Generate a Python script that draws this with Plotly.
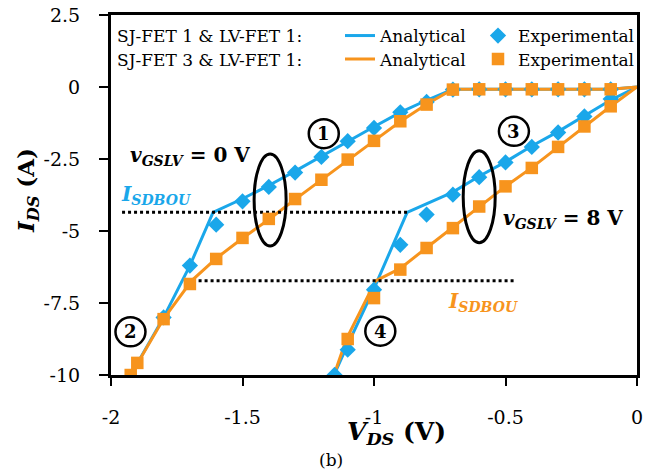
import plotly.graph_objects as go

# ---------------- data ----------------
# SJ-FET 1 & LV-FET 1 (blue), experimental, vGSLV = 0 V
b_exp0_v = [-1.8, -1.7, -1.6, -1.5, -1.4, -1.3, -1.2, -1.1, -1.0, -0.9, -0.8, -0.7, -0.6, -0.5, -0.4, -0.3, -0.2, -0.1]
b_exp0_i = [-8.0, -6.2, -4.78, -3.97, -3.47, -2.97, -2.43, -1.88, -1.42, -0.88, -0.52, -0.09, -0.08, -0.08, -0.08, -0.08, -0.08, -0.08]
# SJ-FET 1 & LV-FET 1 (blue), experimental, vGSLV = 8 V
b_exp8_v = [-1.15, -1.1, -1.0, -0.9, -0.8, -0.7, -0.6, -0.5, -0.4, -0.3, -0.2, -0.1]
b_exp8_i = [-10.0, -9.12, -7.04, -5.48, -4.43, -3.74, -3.13, -2.62, -2.08, -1.58, -1.02, -0.42]
# SJ-FET 3 & LV-FET 1 (orange), experimental, vGSLV = 0 V
o_exp0_v = [-1.925, -1.9, -1.8, -1.7, -1.6, -1.5, -1.4, -1.3, -1.2, -1.1, -1.0, -0.9, -0.8, -0.7, -0.6, -0.5, -0.4, -0.3, -0.2, -0.1]
o_exp0_i = [-10.0, -9.58, -8.06, -6.84, -5.97, -5.24, -4.58, -3.89, -3.22, -2.52, -1.87, -1.19, -0.61, -0.09, -0.08, -0.08, -0.08, -0.08, -0.08, -0.08]
# SJ-FET 3 & LV-FET 1 (orange), experimental, vGSLV = 8 V
o_exp8_v = [-1.1, -1.0, -0.9, -0.8, -0.7, -0.6, -0.5, -0.4, -0.3, -0.2, -0.1]
o_exp8_i = [-8.75, -7.33, -6.34, -5.59, -4.9, -4.15, -3.45, -2.81, -2.08, -1.37, -0.67]

# analytical curves
b_ana0_v = [-1.925, -1.8, -1.7, -1.612, -1.5, -1.4, -1.3, -1.2, -1.1, -1.0, -0.9, -0.8, -0.7, -0.1, 0.0]
b_ana0_i = [-10.0, -8.0, -6.2, -4.35, -3.88, -3.42, -2.92, -2.4, -1.87, -1.38, -0.88, -0.46, -0.08, -0.08, 0.0]
b_ana8_v = [-1.152, -1.108, -1.0, -0.874, -0.7, -0.6, -0.5, -0.4, -0.3, -0.2, -0.1, 0.0]
b_ana8_i = [-10.0, -9.1, -7.0, -4.35, -3.65, -3.1, -2.6, -2.05, -1.55, -1.0, -0.45, 0.0]
o_ana0_v = [-1.925, -1.9, -1.8, -1.693, -1.6, -1.5, -1.4, -1.3, -1.2, -1.1, -1.0, -0.9, -0.8, -0.7, -0.1, 0.0]
o_ana0_i = [-10.0, -9.6, -8.05, -6.72, -5.95, -5.25, -4.6, -3.9, -3.22, -2.52, -1.87, -1.2, -0.6, -0.08, -0.08, 0.0]
o_ana8_v = [-1.152, -1.105, -0.994, -0.9, -0.8, -0.7, -0.6, -0.5, -0.4, -0.3, -0.2, -0.1, 0.0]
o_ana8_i = [-10.0, -8.75, -6.73, -6.3, -5.58, -4.88, -4.15, -3.45, -2.8, -2.08, -1.37, -0.67, 0.0]

# I_SDBOU levels (dotted lines)
isdbou_blue_v = [-1.958, -0.870]
isdbou_blue_i = [-4.35, -4.35]
isdbou_orange_v = [-1.667, -0.458]
isdbou_orange_i = [-6.73, -6.73]

# axis ticks
x_tickvals = [-2, -1.5, -1, -0.5, 0]
x_ticktext = ["-2", "-1.5", "-1", "-0.5", "0"]
y_tickvals = [2.5, 0, -2.5, -5, -7.5, -10]
y_ticktext = ["2.5", "0", "-2.5", "-5", "-7.5", "-10"]

# circled labels and ellipses (data positions)
circ_labels = ["1", "2", "3", "4"]
circ_v = [-1.191, -1.926, -0.468, -0.976]
circ_i = [-1.62, -8.50, -1.54, -8.48]
ell_v = [-1.395, -0.600]
ell_i = [-3.92, -3.81]

BLUE = "#1AA7EA"
ORANGE = "#F7941D"
FONT = "DejaVu Serif"


def join(v1, i1, v2, i2):
    return v1 + [None] + v2, i1 + [None] + i2


fig = go.Figure()

bx, by = join(b_ana0_v, b_ana0_i, b_ana8_v, b_ana8_i)
fig.add_trace(go.Scatter(x=bx, y=by, mode="lines", line=dict(color=BLUE, width=3),
                         name="Analytical", legend="legend"))
ox, oy = join(o_ana0_v, o_ana0_i, o_ana8_v, o_ana8_i)
fig.add_trace(go.Scatter(x=ox, y=oy, mode="lines", line=dict(color=ORANGE, width=3),
                         name="Analytical", legend="legend3"))

fig.add_trace(go.Scatter(x=isdbou_blue_v, y=isdbou_blue_i, mode="lines",
                         line=dict(color="black", width=3, dash="dot"), showlegend=False))
fig.add_trace(go.Scatter(x=isdbou_orange_v, y=isdbou_orange_i, mode="lines",
                         line=dict(color="black", width=3, dash="dot"), showlegend=False))

bx, by = join(b_exp0_v, b_exp0_i, b_exp8_v, b_exp8_i)
fig.add_trace(go.Scatter(x=bx, y=by, mode="markers",
                         marker=dict(symbol="diamond", size=12.5, color=BLUE),
                         name="Experimental", legend="legend2"))
ox, oy = join(o_exp0_v, o_exp0_i, o_exp8_v, o_exp8_i)
fig.add_trace(go.Scatter(x=ox, y=oy, mode="markers",
                         marker=dict(symbol="square", size=12.5, color=ORANGE),
                         name="Experimental", legend="legend4"))

# geometry helpers (plot area 111..637 x, 15..375 y)
L, R, T, B = 111, 637, 15, 375


def px(xp):
    return (xp - L) / (R - L)


def py(yp):
    return (B - yp) / (B - T)


leg_font = dict(family=FONT, size=17, color="black")
row1, row2 = py(36), py(59.5)
legends = dict(
    legend=dict(x=px(340), y=row1),
    legend2=dict(x=px(478), y=row1),
    legend3=dict(x=px(340), y=row2),
    legend4=dict(x=px(478), y=row2),
)
for k, v in legends.items():
    v.update(xanchor="left", yanchor="middle", bgcolor="rgba(0,0,0,0)",
             borderwidth=0, font=leg_font, orientation="h")

shapes = []
for cv, ci in zip(circ_v, circ_i):
    shapes.append(dict(type="circle", xref="x", yref="y", xsizemode="pixel", ysizemode="pixel",
                       xanchor=cv, yanchor=ci, x0=-15, x1=15, y0=-14.5, y1=14.5,
                       line=dict(color="black", width=2.5), fillcolor="rgba(0,0,0,0)"))
for ev, ei in zip(ell_v, ell_i):
    shapes.append(dict(type="circle", xref="x", yref="y", xsizemode="pixel", ysizemode="pixel",
                       xanchor=ev, yanchor=ei, x0=-16, x1=16, y0=-46, y1=46,
                       line=dict(color="black", width=3), fillcolor="rgba(0,0,0,0)"))

annotations = []
for lab, cv, ci in zip(circ_labels, circ_v, circ_i):
    annotations.append(dict(x=cv, y=ci, xref="x", yref="y", text="<b>%s</b>" % lab,
                            showarrow=False, font=dict(family=FONT, size=18, color="black"),
                            xanchor="center", yanchor="middle"))

annotations += [
    dict(xref="paper", yref="paper", x=px(115), y=row1, xanchor="left", yanchor="middle",
         text="SJ-FET 1 &amp; LV-FET 1:", showarrow=False, font=leg_font),
    dict(xref="paper", yref="paper", x=px(115), y=row2, xanchor="left", yanchor="middle",
         text="SJ-FET 3 &amp; LV-FET 1:", showarrow=False, font=leg_font),
    dict(x=-1.70, y=-2.4, xref="x", yref="y", xanchor="center", yanchor="middle", showarrow=False,
         text="<b><i>v</i><sub><i>GSLV</i></sub> = 0 V</b>",
         font=dict(family=FONT, size=20, color="black")),
    dict(x=-0.283, y=-4.6, xref="x", yref="y", xanchor="center", yanchor="middle", showarrow=False,
         text="<b><i>v</i><sub><i>GSLV</i></sub> = 8 V</b>",
         font=dict(family=FONT, size=20, color="black")),
    dict(x=-1.829, y=-3.75, xref="x", yref="y", xanchor="center", yanchor="middle", showarrow=False,
         text="<b><i>I</i><sub><i>SDBOU</i></sub></b>",
         font=dict(family=FONT, size=20, color=BLUE)),
    dict(x=-0.587, y=-7.45, xref="x", yref="y", xanchor="center", yanchor="middle", showarrow=False,
         text="<b><i>I</i><sub><i>SDBOU</i></sub></b>",
         font=dict(family=FONT, size=20, color=ORANGE)),
    # axis titles
    dict(xref="paper", yref="paper", x=px(27), y=py(191), xanchor="center", yanchor="middle",
         textangle=-90, showarrow=False, text="<b><i>I</i><sub><i>DS</i></sub> (A)</b>",
         font=dict(family=FONT, size=23, color="black")),
    dict(xref="paper", yref="paper", x=px(396), y=py(433), xanchor="center", yanchor="middle",
         showarrow=False, text="<b><i>V</i><sub><i>DS</i></sub> (V)</b>",
         font=dict(family=FONT, size=25, color="black")),
    dict(xref="paper", yref="paper", x=px(331), y=py(460), xanchor="center", yanchor="middle",
         showarrow=False, text="(b)", font=dict(family=FONT, size=17, color="black")),
]

fig.update_layout(
    width=665, height=475,
    margin=dict(l=L, r=665 - R, t=T, b=475 - B, autoexpand=False),
    paper_bgcolor="white", plot_bgcolor="white",
    font=dict(family=FONT, size=19, color="black"),
    shapes=shapes, annotations=annotations,
    **legends,
)
fig.update_xaxes(range=[-2, 0], tickvals=x_tickvals, ticktext=x_ticktext,
                 showgrid=False, zeroline=False, showline=True, mirror=True,
                 linewidth=3, linecolor="black", ticks="outside", ticklen=8, tickwidth=1.5,
                 tickcolor="black", ticklabelstandoff=15,
                 tickfont=dict(family=FONT, size=19, color="black"))
fig.update_yaxes(range=[-10, 2.5], tickvals=y_tickvals, ticktext=y_ticktext,
                 showgrid=False, zeroline=False, showline=True, mirror=True,
                 linewidth=3, linecolor="black", ticks="outside", ticklen=9, tickwidth=1.5,
                 tickcolor="black", ticklabelstandoff=15,
                 tickfont=dict(family=FONT, size=19, color="black"))

fig.write_html("out.html")
